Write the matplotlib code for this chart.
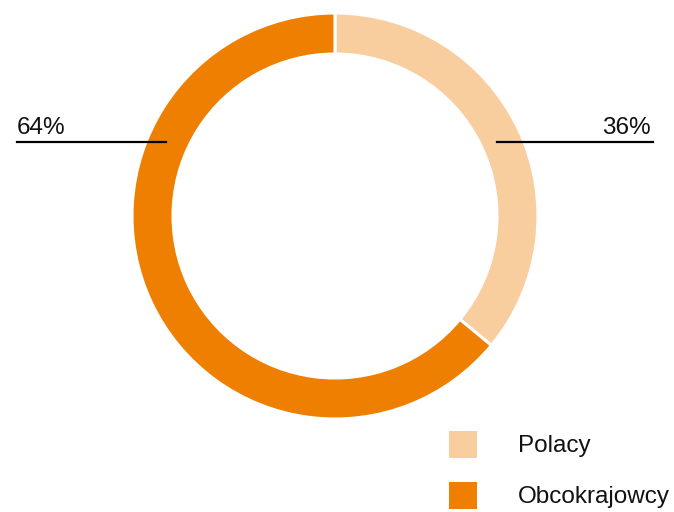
import matplotlib
matplotlib.use("Agg")
import matplotlib.pyplot as plt
from matplotlib.patches import Rectangle

categories = ["Polacy", "Obcokrajowcy"]
shares = [36, 64]
colors = ["#F9CE9F", "#EF7F00"]

plt.rcParams["font.family"] = ["Liberation Sans", "DejaVu Sans"]

W, H = 674, 512
fig = plt.figure(figsize=(W / 100, H / 100), dpi=100)

cx, cy, r_out, ring = 335, 216, 203, 41

# Ring chart on an upward y-axis so the slices run clockwise from the top
pie_ax = fig.add_axes([0, 0, 1, 1])
pie_ax.pie(shares, colors=colors, startangle=90, counterclock=False,
           center=(cx, H - cy), radius=r_out, frame=True,
           wedgeprops=dict(width=ring, edgecolor="white", linewidth=2.2))
pie_ax.set_xlim(0, W)
pie_ax.set_ylim(0, H)
pie_ax.set_aspect("equal")
pie_ax.axis("off")

# Overlay in pixel coordinates for callouts and legend
ax = fig.add_axes([0, 0, 1, 1])
ax.set_zorder(2)
ax.patch.set_alpha(0)
ax.set_xlim(0, W)
ax.set_ylim(H, 0)
ax.set_aspect("equal")
ax.axis("off")

line_y = 141.5
ax.plot([17, 166], [line_y, line_y], color="black", lw=1.6)
ax.plot([497, 653], [line_y, line_y], color="black", lw=1.6)
ax.text(17, 134, f"{shares[1]}%", fontsize=17.5, ha="left", va="baseline", color="#111111")
ax.text(651, 134, f"{shares[0]}%", fontsize=17.5, ha="right", va="baseline", color="#111111")

for i, (lab, col) in enumerate(zip(categories, colors)):
    y0 = 431 + i * 51
    ax.add_patch(Rectangle((449, y0), 28, 27, color=col, lw=0))
    ax.text(518, y0 + 21, lab, fontsize=17.5, ha="left", va="baseline", color="#111111")

fig.savefig("out.png", dpi=100)
